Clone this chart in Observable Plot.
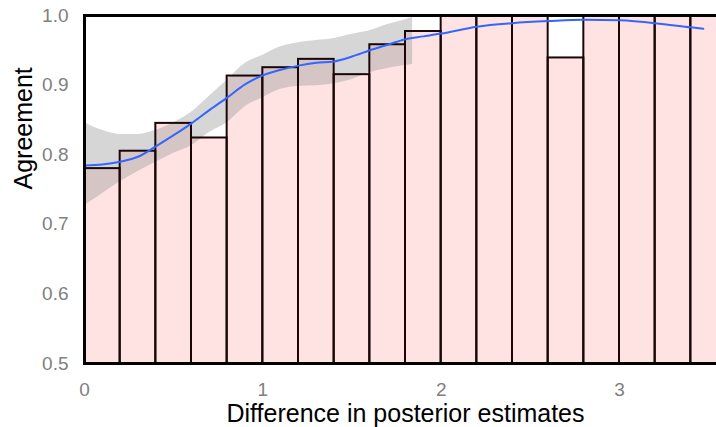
<!DOCTYPE html>
<html>
<head>
<meta charset="utf-8">
<script src="https://cdn.jsdelivr.net/npm/d3@7"></script>
<script src="https://cdn.jsdelivr.net/npm/@observablehq/plot@0.6"></script>
<style>
  html, body { margin: 0; padding: 0; background: #fff; overflow: hidden; }
  #chart svg { display: block; overflow: hidden; }
</style>
</head>
<body>
<div id="chart"></div>
<script>
// Binned agreement by difference in posterior estimates (bin width 0.2)
const binStart = [0, 0.2, 0.4, 0.6, 0.8, 1.0, 1.2, 1.4, 1.6, 1.8, 2.0, 2.2, 2.4, 2.6, 2.8, 3.0, 3.2, 3.4];
const binWidth = 0.2;
const agreement = [0.780, 0.805, 0.845, 0.824, 0.913, 0.925, 0.937, 0.915, 0.958, 0.977, 1.0, 1.0, 1.0, 0.939, 1.0, 1.0, 1.0, 1.0];

// Loess fit
const smoothX = [0, 0.1, 0.2, 0.3, 0.4, 0.5, 0.6, 0.7, 0.8, 0.9, 1.0, 1.1, 1.2, 1.3, 1.4, 1.5, 1.6, 1.7, 1.8, 1.9, 2.0, 2.2, 2.4, 2.6, 2.8, 3.0, 3.2, 3.4, 3.47];
const smoothY = [0.7845, 0.786, 0.790, 0.797, 0.812, 0.828, 0.845, 0.864, 0.882, 0.901, 0.914, 0.922, 0.928, 0.932, 0.934, 0.941, 0.950, 0.958, 0.966, 0.970, 0.974, 0.984, 0.989, 0.992, 0.994, 0.993, 0.989, 0.983, 0.981];

// Confidence band (shown while the upper bound stays within the axis)
const bandX = [0, 0.1, 0.2, 0.3, 0.4, 0.5, 0.6, 0.7, 0.8, 0.9, 1.0, 1.1, 1.2, 1.3, 1.4, 1.5, 1.6, 1.7, 1.8, 1.84];
const bandLow = [0.727, 0.744, 0.761, 0.776, 0.789, 0.802, 0.813, 0.832, 0.846, 0.869, 0.882, 0.894, 0.898, 0.899, 0.902, 0.908, 0.918, 0.924, 0.928, 0.930];
const bandHigh = [0.846, 0.835, 0.829, 0.829, 0.835, 0.846, 0.861, 0.884, 0.907, 0.931, 0.943, 0.955, 0.961, 0.964, 0.967, 0.973, 0.978, 0.987, 0.994, 0.997];

const xTicks = [0, 1, 2, 3];
const yTicks = [0.5, 0.6, 0.7, 0.8, 0.9, 1.0];

const bins = binStart.map((x, i) => ({x1: x, x2: x + binWidth, value: agreement[i]}));
const smooth = smoothX.map((x, i) => ({x, y: smoothY[i]}));
const band = bandX.map((x, i) => ({x, lo: bandLow[i], hi: bandHigh[i]}));

const font = "'Liberation Sans', Arial, Helvetica, sans-serif";

const chart = Plot.plot({
  width: 716,
  height: 427,
  marginTop: 15,
  marginLeft: 84,
  marginRight: -10,
  marginBottom: 64,
  style: {fontFamily: font, background: "#fff"},
  x: {domain: [0, 3.6]},
  y: {domain: [0.5, 1.0]},
  marks: [
    Plot.rectY(bins, {x1: "x1", x2: "x2", y1: 0.5, y2: "value", fill: "#ffe3e3"}),
    Plot.areaY(band, {x: "x", y1: "lo", y2: "hi", fill: "#999999", fillOpacity: 0.4, curve: "monotone-x"}),
    Plot.rectY(bins, {x1: "x1", x2: "x2", y1: 0.5, y2: "value", fill: "none", stroke: "#1a0606", strokeWidth: 2}),
    Plot.line(smooth, {x: "x", y: "y", stroke: "#3366FF", strokeWidth: 2, curve: "monotone-x"}),
    Plot.frame({stroke: "#000", strokeWidth: 3}),
    Plot.axisX(xTicks, {tickSize: 0, tickPadding: 19, fontSize: 19, fill: "#808080", label: null, tickFormat: d3.format("d")}),
    Plot.axisY(yTicks, {tickSize: 0, tickPadding: 16, fontSize: 19, fill: "#808080", label: null, tickFormat: d3.format(".1f")}),
    Plot.text(["Difference in posterior estimates"], {frameAnchor: "bottom", dy: 50, lineAnchor: "middle", fontSize: 25, fill: "#000"}),
    Plot.text(["Agreement"], {frameAnchor: "left", dx: -61, rotate: -90, lineAnchor: "middle", fontSize: 25, fill: "#000"})
  ]
});

document.getElementById("chart").appendChild(chart);
</script>
</body>
</html>
